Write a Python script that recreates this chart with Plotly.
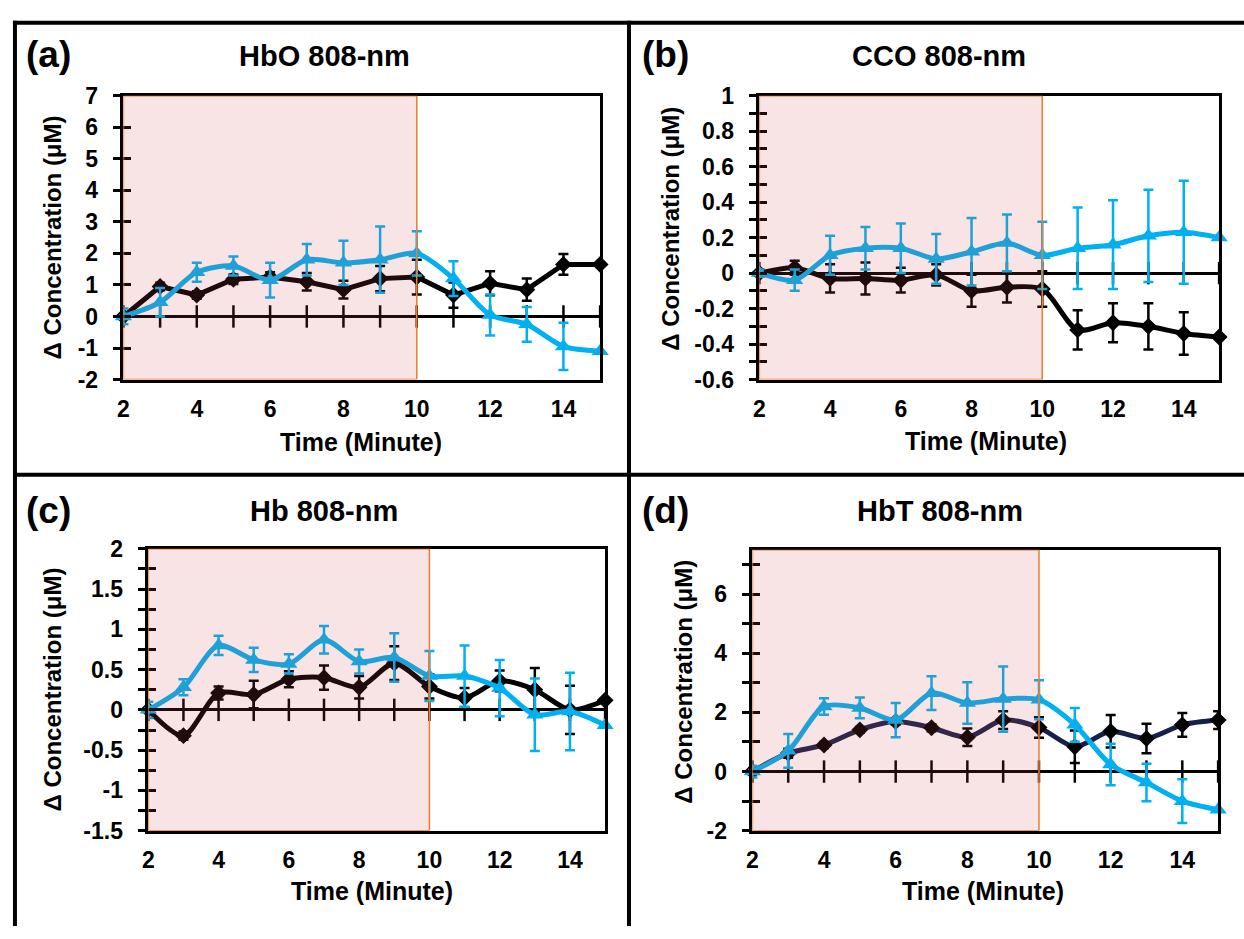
import plotly.graph_objects as go

# ---------------- data ----------------
minutes = [2, 3, 4, 5, 6, 7, 8, 9, 10, 11, 12, 13, 14, 15]

# (a) HbO 808-nm
hbo_black = [0, 0.95, 0.68, 1.18, 1.25, 1.1, 0.85, 1.2, 1.25, 0.68, 1.05, 0.85, 1.65, 1.65]
hbo_black_err = [0.03, 0.12, 0.12, 0.15, 0.15, 0.28, 0.28, 0.4, 0.55, 0.4, 0.38, 0.35, 0.33, 0]
hbo_blue = [0, 0.45, 1.4, 1.6, 1.15, 1.8, 1.7, 1.8, 2.0, 1.2, 0.05, -0.25, -0.95, -1.1]
hbo_blue_err = [0.25, 0.45, 0.3, 0.3, 0.55, 0.5, 0.7, 1.05, 0.7, 0.55, 0.65, 0.55, 0.75, 0]

# (b) CCO 808-nm
cco_black = [0, 0.03, -0.03, -0.03, -0.04, -0.01, -0.1, -0.08, -0.09, -0.32, -0.28, -0.3, -0.34, -0.36]
cco_black_err = [0.02, 0.04, 0.08, 0.09, 0.07, 0.06, 0.09, 0.085, 0.1, 0.11, 0.11, 0.13, 0.12, 0]
cco_blue = [0, -0.04, 0.1, 0.14, 0.14, 0.08, 0.12, 0.17, 0.1, 0.14, 0.16, 0.21, 0.23, 0.2]
cco_blue_err = [0.02, 0.06, 0.11, 0.12, 0.14, 0.14, 0.19, 0.16, 0.19, 0.23, 0.25, 0.26, 0.29, 0]

# (c) Hb 808-nm
hb_black = [0, -0.32, 0.21, 0.19, 0.38, 0.4, 0.28, 0.58, 0.29, 0.15, 0.36, 0.25, 0.0, 0.12]
hb_black_err = [0.02, 0.05, 0.08, 0.17, 0.1, 0.15, 0.14, 0.21, 0.15, 0.12, 0.13, 0.27, 0.3, 0]
hb_blue = [0, 0.28, 0.8, 0.62, 0.57, 0.87, 0.6, 0.65, 0.42, 0.42, 0.27, -0.06, -0.02, -0.19]
hb_blue_err = [0.1, 0.1, 0.12, 0.15, 0.12, 0.17, 0.15, 0.3, 0.31, 0.38, 0.35, 0.45, 0.48, 0]

# (d) HbT 808-nm
hbt_black = [0, 0.62, 0.9, 1.41, 1.69, 1.48, 1.16, 1.74, 1.49, 0.84, 1.36, 1.12, 1.58, 1.74]
hbt_black_err = [0.05, 0.15, 0.1, 0.1, 0.1, 0.12, 0.3, 0.3, 0.35, 0.55, 0.55, 0.5, 0.4, 0.3]
hbt_blue = [0, 0.7, 2.2, 2.15, 1.74, 2.65, 2.32, 2.45, 2.43, 1.58, 0.24, -0.37, -1.0, -1.29]
hbt_blue_err = [0.2, 0.57, 0.28, 0.35, 0.58, 0.57, 0.7, 1.1, 0.66, 0.57, 0.7, 0.63, 0.74, 0]

titles = ["HbO 808-nm", "CCO 808-nm", "Hb 808-nm", "HbT 808-nm"]
letters = ["(a)", "(b)", "(c)", "(d)"]
x_tickvals = [2, 4, 6, 8, 10, 12, 14]
x_ticktext = ["2", "4", "6", "8", "10", "12", "14"]

ya_vals = [-2, -1, 0, 1, 2, 3, 4, 5, 6, 7]
ya_text = ["-2", "-1", "0", "1", "2", "3", "4", "5", "6", "7"]
yb_vals = [-0.6, -0.4, -0.2, 0, 0.2, 0.4, 0.6, 0.8, 1]
yb_text = ["-0.6", "-0.4", "-0.2", "0", "0.2", "0.4", "0.6", "0.8", "1"]
yc_vals = [-1.5, -1, -0.5, 0, 0.5, 1, 1.5, 2]
yc_text = ["-1.5", "-1", "-0.5", "0", "0.5", "1", "1.5", "2"]
yd_vals = [-2, 0, 2, 4, 6]
yd_text = ["-2", "0", "2", "4", "6"]

laser_window = [2, 10]

# ---------------- layout helpers ----------------
W, H = 1244, 939
def px(x):
    return x / W
def py(y):
    return 1 - y / H

FONT = "Liberation Sans, Arial, sans-serif"
BLUE = "#00B0F0"
BLACK = "#000000"
NAVY = "#17204a"
ORANGE = "#ED7D31"
TICK_SIZE = 23

panels = [
    dict(data=(hbo_black, hbo_black_err, hbo_blue, hbo_blue_err), rng=[-2, 7], tv=ya_vals, tt=ya_text,
         minor=None, dom=(118, 597, 85, 377), black_shape="linear", black_line=BLACK,
         title_xy=(320, 44), letter_xy=(43, 43), ytitle_xy=(47, 231), xtitle_xy=(357, 441)),
    dict(data=(cco_black, cco_black_err, cco_blue, cco_blue_err), rng=[-0.6, 1], tv=yb_vals, tt=yb_text,
         minor=0.1, dom=(757, 1219, 85, 377), black_shape="spline", black_line=BLACK,
         title_xy=(938, 44), letter_xy=(663, 43), ytitle_xy=(668, 222), xtitle_xy=(985, 440)),
    dict(data=(hb_black, hb_black_err, hb_blue, hb_blue_err), rng=[-1.5, 2], tv=yc_vals, tt=yc_text,
         minor=0.25, dom=(143, 602, 551, 841), black_shape="spline", black_line=BLACK,
         title_xy=(320, 512), letter_xy=(43, 512), ytitle_xy=(47, 696), xtitle_xy=(368, 903)),
    dict(data=(hbt_black, hbt_black_err, hbt_blue, hbt_blue_err), rng=[-2, 7.5], tv=yd_vals, tt=yd_text,
         minor=1, dom=(750, 1218, 552, 841), black_shape="spline", black_line=NAVY,
         title_xy=(939, 512), letter_xy=(663, 512), ytitle_xy=(681, 688), xtitle_xy=(982, 903)),
]

fig = go.Figure()
layout = dict(
    width=W, height=H, margin=dict(l=0, r=0, t=0, b=0),
    paper_bgcolor="white", plot_bgcolor="white", showlegend=False,
    font=dict(family=FONT, color="black"),
)
shapes = []
annotations = []

for i, p in enumerate(panels, start=1):
    xa = "x" if i == 1 else f"x{i}"
    ya = "y" if i == 1 else f"y{i}"
    yo = f"y{i + 4}"
    bk, bke, bl, ble = p["data"]
    x0, x1, y0, y1 = p["dom"]

    # cross tick marks on the zero line
    fig.add_trace(go.Scatter(
        x=minutes, y=[0] * len(minutes), xaxis=xa, yaxis=ya, mode="markers",
        marker=dict(symbol="line-ns", size=16, line=dict(color="black", width=2.5)),
        hoverinfo="skip", cliponaxis=False, name="ticks"))
    # black series
    fig.add_trace(go.Scatter(
        x=minutes, y=bk, xaxis=xa, yaxis=ya, mode="lines+markers", name="black",
        line=dict(color=p["black_line"], width=5, shape=p["black_shape"], smoothing=0.8),
        marker=dict(symbol="diamond", size=13, color="black"),
        error_y=dict(type="data", array=bke, visible=True, color="black", thickness=2.5, width=5),
        cliponaxis=False))
    # blue series
    fig.add_trace(go.Scatter(
        x=minutes, y=bl, xaxis=xa, yaxis=ya, mode="lines+markers", name="blue",
        line=dict(color=BLUE, width=5, shape="spline", smoothing=0.8),
        marker=dict(symbol="triangle-up", size=15, color=BLUE),
        error_y=dict(type="data", array=ble, visible=True, color=BLUE, thickness=2.5, width=5),
        cliponaxis=False))

    xkey = "xaxis" if i == 1 else f"xaxis{i}"
    ykey = "yaxis" if i == 1 else f"yaxis{i}"
    layout[xkey] = dict(
        domain=[px(x0), px(x1)], anchor=ya, range=[minutes[0], minutes[-1]],
        tickvals=x_tickvals, ticktext=x_ticktext, ticks="", ticklabelstandoff=7,
        showline=True, mirror=True, linecolor="black", linewidth=2.5,
        showgrid=False, zeroline=False,
        tickfont=dict(family=FONT, size=TICK_SIZE, color="black", weight="bold"))
    ydict = dict(
        domain=[py(y1), py(y0)], anchor=xa, range=p["rng"],
        tickvals=p["tv"], ticktext=p["tt"], ticks="outside", ticklen=8, tickwidth=2.5,
        tickcolor="black", ticklabelstandoff=10,
        showline=True, mirror=True, linecolor="black", linewidth=2.5,
        showgrid=False, zeroline=True, zerolinecolor="black", zerolinewidth=2.5,
        tickfont=dict(family=FONT, size=TICK_SIZE, color="black", weight="bold"))
    if p["minor"]:
        ydict["minor"] = dict(dtick=p["minor"], tick0=0, ticks="outside", ticklen=8,
                              tickwidth=2.5, tickcolor="black")
    layout[ykey] = ydict
    # overlay axis giving the inner half of the crossing y ticks
    odict = dict(
        overlaying=ya, anchor=xa, side="left", range=p["rng"],
        tickvals=p["tv"], ticks="inside", ticklen=8, tickwidth=2.5, tickcolor="black",
        showticklabels=False, showline=False, showgrid=False, zeroline=False)
    if p["minor"]:
        odict["minor"] = dict(dtick=p["minor"], tick0=0, ticks="inside", ticklen=8,
                              tickwidth=2.5, tickcolor="black")
    layout[f"yaxis{i + 4}"] = odict
    fig.add_trace(go.Scatter(x=[minutes[0]], y=[p["rng"][0]], xaxis=xa, yaxis=yo,
                             mode="markers", marker=dict(opacity=0), hoverinfo="skip",
                             name="overlay"))

    # laser window shading (semi-transparent, on top like the original)
    shapes.append(dict(type="rect", xref=xa, yref=ya, x0=laser_window[0], x1=laser_window[1],
                       y0=p["rng"][0], y1=p["rng"][1], layer="above",
                       fillcolor="rgba(208,75,75,0.15)", line=dict(color=ORANGE, width=1.5)))

    tx, ty = p["title_xy"]
    annotations.append(dict(text=titles[i - 1], x=px(tx), y=py(ty), xref="paper", yref="paper",
                            showarrow=False, xanchor="center", yanchor="middle",
                            font=dict(family=FONT, size=29, color="black", weight="bold")))
    lx, ly = p["letter_xy"]
    annotations.append(dict(text=letters[i - 1], x=px(lx), y=py(ly), xref="paper", yref="paper",
                            showarrow=False, xanchor="center", yanchor="middle",
                            font=dict(family=FONT, size=37, color="black", weight="bold")))
    yx, yy = p["ytitle_xy"]
    annotations.append(dict(text="Δ Concentration (μM)", x=px(yx), y=py(yy), xref="paper",
                            yref="paper", showarrow=False, textangle=-90,
                            xanchor="center", yanchor="middle",
                            font=dict(family=FONT, size=24, color="black", weight="bold")))
    xx, xy = p["xtitle_xy"]
    annotations.append(dict(text="Time (Minute)", x=px(xx), y=py(xy), xref="paper", yref="paper",
                            showarrow=False, xanchor="center", yanchor="middle",
                            font=dict(family=FONT, size=25, color="black", weight="bold")))

# panel frame lines
frame = dict(xref="paper", yref="paper", type="line", line=dict(color="black", width=4))
shapes.append(dict(frame, x0=px(7), x1=1, y0=py(10), y1=py(10)))
shapes.append(dict(frame, x0=px(9), x1=px(9), y0=py(8), y1=0))
shapes.append(dict(frame, x0=px(626), x1=px(626), y0=py(8), y1=0))
shapes.append(dict(frame, x0=px(9), x1=1, y0=py(475), y1=py(475)))

layout["shapes"] = shapes
layout["annotations"] = annotations
fig.update_layout(**layout)
fig.write_html("out.html")
